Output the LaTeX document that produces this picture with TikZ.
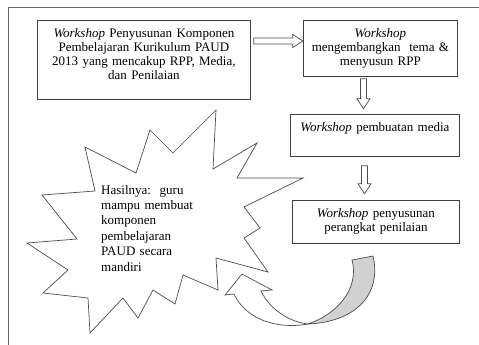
\documentclass[tikz,border=0pt]{standalone}
\usepackage{fontspec}
\setmainfont{Liberation Serif}
\usepackage{tikz}
\usetikzlibrary{positioning, calc}

% hollow block arrow: start point, angle, length
\newcommand{\hollowarrow}[3]{%
  \draw[blockarr, shift={#1}, rotate=#2]
    (0,-3) -- (#3-10,-3) -- (#3-10,-6.5) -- (#3,0) -- (#3-10,6.5) -- (#3-10,3) -- (0,3) -- cycle;
}

\begin{document}
\begin{tikzpicture}[x=1pt, y=-1pt,
    font=\fontsize{13}{14}\selectfont,
    wsbox/.style={draw=black!75, line width=0.8pt, fill=white, align=center,
                  inner xsep=4pt, inner ysep=3pt, text height=14pt, anchor=north west},
    blockarr/.style={draw=black!70, line width=0.7pt, fill=white},
    burst/.style={draw=black!70, line width=0.7pt, fill=white, line join=miter},
]
\useasboundingbox (0,0) rectangle (479,345);

% Frame, top and left edge
\draw[black!60, line width=0.8pt] (479,7) -- (8,7) -- (8,345);

% Workshop boxes
\node[wsbox, text width=205pt, text depth=59pt] (ws1) at (37,20)
  {\textit{Workshop} Penyusunan Komponen\\ Pembelajaran Kurikulum PAUD\\ 2013 yang mencakup RPP, Media,\\ dan Penilaian};
\node[wsbox, text width=146pt, text depth=36pt] (ws2) at (303,20)
  {\textit{Workshop}\\ mengembangkan\ \ tema \&\\ menyusun RPP};
\node[wsbox, text width=161pt, text depth=22pt] (ws3) at (290,114)
  {\textit{Workshop} pembuatan media};
\node[wsbox, text width=159pt, text depth=23pt] (ws4) at (292,200)
  {\textit{Workshop} penyusunan\\ perangkat penilaian};

% Block arrows between boxes
\hollowarrow{($(ws1.north east)+(3,21)$)}{0}{49}
\hollowarrow{($(ws2.south west)+(60.5,2)$)}{-90}{30}
\hollowarrow{($(ws3.south west)+(74.5,9)$)}{-90}{28}

% Burst with result text
\draw[burst] (216,110) -- (213,169) -- (257,143) -- (237,178) -- (303,178) -- (244,207)
  -- (260,228) -- (244,238) -- (268,272) -- (216,258) -- (218,290) -- (183,275)
  -- (175,304) -- (153,290) -- (138,318) -- (123,298) -- (90,333) -- (88,298)
  -- (43,293) -- (68,270) -- (27,243) -- (77,239) -- (42,195) -- (95,191)
  -- (85,147) -- (136,173) -- (150,130) -- (173,153) -- cycle;
\node[anchor=base west, text width=100pt, align=left, inner sep=0pt,
      font=\fontsize{13}{15.4}\selectfont] (hasil) at (101,194)
  {Hasilnya:\ \ guru\\ mampu membuat\\ komponen\\ pembelajaran\\ PAUD secara\\ mandiri};

% Curved return arrow
\draw[blockarr, fill=black!18] (352,260) -- (373,256)
  .. controls (382,295) and (355,322) .. (308,324)
  .. controls (335,315) and (360,290) .. (352,260) -- cycle;
\draw[blockarr] (308,324) .. controls (275,330) and (245,318) .. (234,294)
  -- (225,295) -- (242,274) -- (272,290) -- (261,291)
  .. controls (270,310) and (290,322) .. (308,324) -- cycle;

\end{tikzpicture}
\end{document}
